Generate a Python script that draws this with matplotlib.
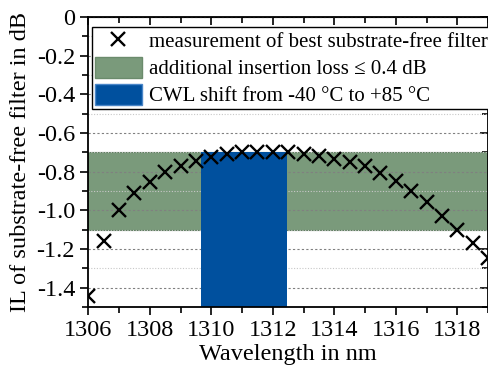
import matplotlib
matplotlib.use("Agg")
import matplotlib.pyplot as plt
from matplotlib.ticker import MultipleLocator
from matplotlib.patches import Patch
from matplotlib.lines import Line2D

# Data
wavelength = [1306.0, 1306.5, 1307.0, 1307.5, 1308.0, 1308.5, 1309.0, 1309.5,
              1310.0, 1310.5, 1311.0, 1311.5, 1312.0, 1312.5, 1313.0, 1313.5,
              1314.0, 1314.5, 1315.0, 1315.5, 1316.0, 1316.5, 1317.0, 1317.5,
              1318.0, 1318.5, 1319.0]
il_db = [-1.445, -1.16, -1.00, -0.908, -0.851, -0.802, -0.768, -0.747,
         -0.725, -0.708, -0.700, -0.698, -0.697, -0.697, -0.706, -0.720,
         -0.735, -0.750, -0.770, -0.806, -0.848, -0.900, -0.959, -1.030,
         -1.100, -1.169, -1.245]
loss_band = [-1.1, -0.7]          # additional insertion loss <= 0.4 dB
cwl_range = [1309.65, 1312.45]    # CWL shift from -40 to +85 C
cwl_top = -0.7

labels = ["measurement of best substrate-free filter",
          "additional insertion loss \u2264 0.4 dB",
          "CWL shift from -40 \u00b0C to +85 \u00b0C"]

green = "#7a9a7b"
blue = "#00509e"

plt.rcParams['font.family'] = ['Liberation Serif', 'DejaVu Serif']
plt.rcParams['mathtext.fontset'] = 'stix'

fig = plt.figure(figsize=(4.89, 3.73), dpi=100)
ax = fig.add_axes([0.1806, 0.177, 0.8174, 0.777])

ax.set_xlim(1306, 1319)
ax.set_ylim(-1.5, 0)

ax.axhspan(loss_band[0], loss_band[1], facecolor=green, edgecolor="#5e7e5f",
           linewidth=0.8, zorder=1)
ax.fill_between(cwl_range, ax.get_ylim()[0], cwl_top, facecolor=blue,
                edgecolor="none", zorder=2)
ax.plot(wavelength, il_db, linestyle="none", marker="x", markersize=10.5,
        markeredgewidth=1.7, color="black", zorder=4, clip_on=True)

ax.xaxis.set_major_locator(MultipleLocator(2))
ax.xaxis.set_minor_locator(MultipleLocator(1))
ax.yaxis.set_major_locator(MultipleLocator(0.2))
ax.yaxis.set_minor_locator(MultipleLocator(0.1))
ax.yaxis.set_major_formatter(plt.FuncFormatter(lambda v, p: "0" if abs(v) < 1e-9 else f"{v:.1f}"))

ax.set_axisbelow('line')
ax.grid(True, which='major', axis='y', color='#808080', linestyle=(0, (2, 2)), linewidth=0.8)
ax.grid(True, which='minor', axis='y', color='#c8c8c8', linestyle=(0, (1, 1.5)), linewidth=0.8)

ax.tick_params(which='both', direction='out', labelsize=17.5, width=1.2, top=False, right=False)
ax.tick_params(which='major', length=6)
ax.tick_params(which='minor', length=4)

secx = ax.secondary_xaxis('top')
secx.xaxis.set_major_locator(MultipleLocator(2))
secx.xaxis.set_minor_locator(MultipleLocator(1))
secx.tick_params(which='both', direction='in', labeltop=False, width=1.2)
secx.tick_params(which='major', length=6)
secx.tick_params(which='minor', length=4)
secy = ax.secondary_yaxis('right')
secy.yaxis.set_major_locator(MultipleLocator(0.2))
secy.yaxis.set_minor_locator(MultipleLocator(0.1))
secy.tick_params(which='both', direction='in', labelright=False, width=1.2)
secy.tick_params(which='major', length=6)
secy.tick_params(which='minor', length=4)

for sp in ax.spines.values():
    sp.set_linewidth(1.3)
    sp.set_zorder(5)

ax.set_xlabel("Wavelength in nm", fontsize=17.5, labelpad=2)
ax.set_ylabel("IL of substrate-free filter in dB", fontsize=17.5, labelpad=4)

handles = [Line2D([], [], linestyle="none", marker="x", markersize=10.5,
                  markeredgewidth=1.7, color="black"),
           Patch(facecolor=green, edgecolor="#6b8b6c"),
           Patch(facecolor=blue, edgecolor="#4a86c8")]
leg = ax.legend(handles, labels, loc="upper left", bbox_to_anchor=(0.0085, 0.9666),
                fontsize=15, frameon=True, fancybox=False, edgecolor="black",
                framealpha=1, borderpad=0.15, labelspacing=0.22, handlelength=2.25,
                handleheight=1.15, handletextpad=0.33, borderaxespad=0.0)
leg.get_frame().set_linewidth(1.0)
leg.set_zorder(6)

fig.savefig("out.png", dpi=100)
